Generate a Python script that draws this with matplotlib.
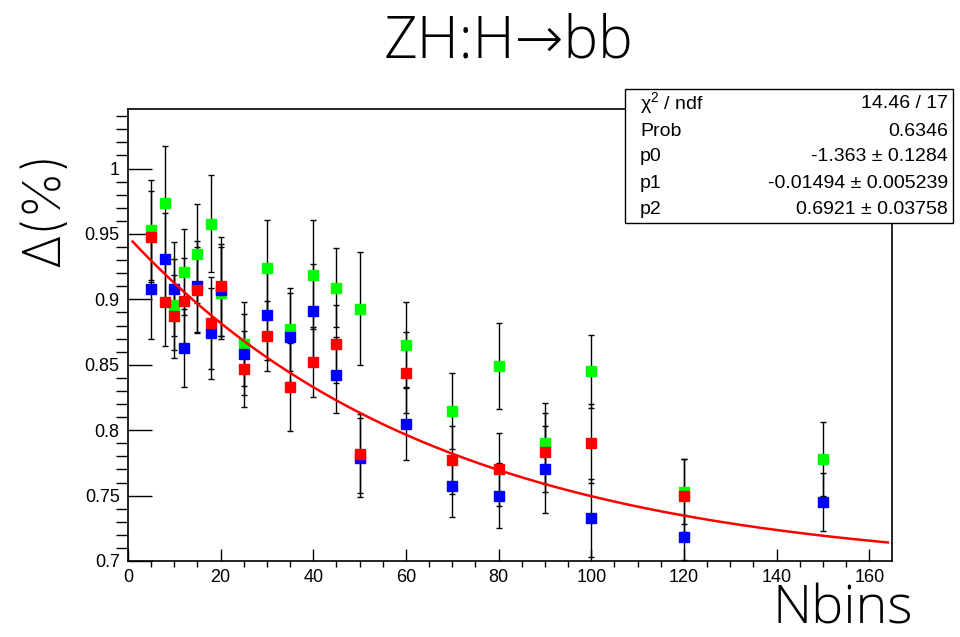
import numpy as np
import matplotlib
matplotlib.use('Agg')
import matplotlib.pyplot as plt
from matplotlib.ticker import MultipleLocator, FuncFormatter

# Nbins scan points
nbins = [5, 8, 10, 12, 15, 18, 20, 25, 30, 35, 40, 45, 50, 60, 70, 80, 90, 100, 120, 150]

green = [0.953, 0.974, 0.896, 0.921, 0.935, 0.958, 0.905, 0.866, 0.924, 0.877,
         0.919, 0.909, 0.893, 0.865, 0.815, 0.849, 0.790, 0.845, 0.753, 0.778]
green_err = [0.038, 0.043, 0.035, 0.033, 0.038, 0.037, 0.035, 0.032, 0.037, 0.032,
             0.042, 0.030, 0.043, 0.033, 0.029, 0.033, 0.031, 0.028, 0.025, 0.028]

blue = [0.908, 0.931, 0.908, 0.863, 0.910, 0.874, 0.907, 0.858, 0.888, 0.871,
        0.891, 0.842, 0.779, 0.805, 0.757, 0.750, 0.770, 0.733, 0.718, 0.745]
blue_err = [0.038, 0.035, 0.036, 0.030, 0.035, 0.035, 0.035, 0.031, 0.034, 0.034,
            0.036, 0.029, 0.030, 0.028, 0.023, 0.025, 0.033, 0.030, 0.017, 0.022]

# red has no point at 150
red_x = nbins[:-1]
red = [0.948, 0.898, 0.887, 0.899, 0.907, 0.882, 0.910, 0.847, 0.872, 0.833,
       0.852, 0.866, 0.782, 0.844, 0.777, 0.770, 0.783, 0.790, 0.750]
red_err = [0.035, 0.034, 0.032, 0.033, 0.033, 0.035, 0.038, 0.029, 0.027, 0.034,
           0.027, 0.030, 0.030, 0.031, 0.026, 0.028, 0.030, 0.030, 0.028]

# fit: exp(p0 + p1*x) + p2
p0, p1, p2 = -1.363, -0.01494, 0.6921
stats = [(r'χ$^{2}$ / ndf', '14.46 / 17'),
         ('Prob', '0.6346'),
         ('p0', '-1.363 ± 0.1284'),
         ('p1', '-0.01494 ± 0.005239'),
         ('p2', '0.6921 ± 0.03758')]

plt.rcParams['font.family'] = ['Liberation Sans', 'DejaVu Sans']
plt.rcParams['mathtext.fontset'] = 'custom'
plt.rcParams['mathtext.rm'] = 'Liberation Sans'

fig = plt.figure(figsize=(9.6, 6.37), dpi=100)
ax = fig.add_axes([128/960, 1-561/637, (891.5-128)/960, (561-109.3)/637])

for xs, ys, es, col in [(nbins, green, green_err, '#00ff00'),
                        (nbins, blue, blue_err, '#0000ff'),
                        (red_x, red, red_err, '#ff0000')]:
    ax.errorbar(xs, ys, yerr=es, fmt='s', color=col, ms=7.5, mec=col,
                ecolor='black', elinewidth=1.0, capsize=2, capthick=1.0)

xf = np.linspace(1, 164, 300)
ax.plot(xf, np.exp(p0 + p1*xf) + p2, color='#ff0000', lw=1.8, zorder=5)

ax.set_xlim(0, 164.8)
ax.set_ylim(0.7, 1.0453)
ax.xaxis.set_major_locator(MultipleLocator(20))
ax.xaxis.set_minor_locator(MultipleLocator(5))
ax.yaxis.set_major_locator(MultipleLocator(0.05))
ax.yaxis.set_minor_locator(MultipleLocator(0.01))
ax.yaxis.set_major_formatter(FuncFormatter(lambda v, p: '%g' % round(v, 3)))
ax.tick_params(direction='in', labelsize=13, width=1.0, top=False, right=False)
ax.tick_params(axis='y', which='major', length=17, pad=6)
ax.tick_params(axis='y', which='minor', length=8.5, width=1.0)
ax.tick_params(axis='x', which='major', length=9, pad=6)
ax.tick_params(axis='x', which='minor', length=4.5, width=1.0)
for s in ax.spines.values():
    s.set_linewidth(1.2)

light = ['Open Sans', 'DejaVu Sans']
fig.text(509/960, 1-42/637, 'ZH:H→bb', ha='center', va='center', fontsize=42,
         family=light, weight='light')
fig.text(913/960, 0.001, 'Nbins', ha='right', va='bottom', fontsize=39,
         family=light, weight='light')
fig.text(46/960, 1-209/637, 'Δ(%)', ha='center', va='center', fontsize=38,
         rotation=90, family=['Inter', 'DejaVu Sans'], weight='light')

# stats box
bx0, bx1, by0, by1 = 625, 953, 89, 223
fig.patches.append(plt.Rectangle((bx0/960, 1-by1/637), (bx1-bx0)/960, (by1-by0)/637,
                                 transform=fig.transFigure, facecolor='white',
                                 edgecolor='black', lw=1.0, zorder=10))
rows_y = [104, 131, 157, 183, 210]
for (lab, val), yy in zip(stats, rows_y):
    fig.text(640/960, 1-yy/637, lab, ha='left', va='center', fontsize=14, zorder=11)
    fig.text(948/960, 1-yy/637, val, ha='right', va='center', fontsize=14, zorder=11)

fig.savefig('out.png', dpi=100)
